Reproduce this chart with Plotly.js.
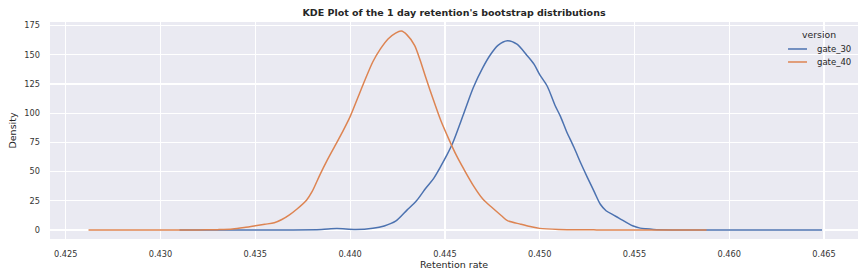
<!DOCTYPE html>
<html>
<head>
<meta charset="utf-8">
<script src="https://cdn.plot.ly/plotly-3.0.1.min.js"></script>
<style>html,body{margin:0;padding:0;background:#fff;}#chart{width:865px;height:280px;}</style>
</head>
<body>
<div id="chart"></div>
<script>
// gate_30 bootstrap KDE
const gate30X = [0.4310, 0.4340, 0.4370, 0.4385, 0.4393, 0.4403, 0.4412, 0.4418, 0.4424, 0.4430, 0.4435, 0.4440, 0.4444, 0.4448, 0.4451, 0.4454, 0.4460, 0.4465, 0.4470, 0.4474, 0.4478, 0.4483, 0.4488, 0.4493, 0.4497, 0.4500, 0.4504, 0.4508, 0.4511, 0.4514, 0.4518, 0.4522, 0.4525, 0.4529, 0.4532, 0.4535, 0.4539, 0.4542, 0.4549, 0.4553, 0.4556, 0.4560, 0.4570, 0.4600, 0.4649];
const gate30Y = [0, 0, 0.1, 0.5, 1.2, 0.4, 1.5, 3.5, 7.5, 17, 25, 36, 44, 55, 64, 74, 100, 122, 139, 150, 158, 162, 159, 150, 142, 133, 123, 107, 97, 85, 71, 56, 45.5, 32, 22, 16.5, 12.8, 10, 3.6, 1.6, 1.0, 0.5, 0.1, 0, 0];
// gate_40 bootstrap KDE
const gate40X = [0.4262, 0.4300, 0.4320, 0.4330, 0.4338, 0.4345, 0.4350, 0.4355, 0.4360, 0.4364, 0.4368, 0.4372, 0.4377, 0.4380, 0.4384, 0.4388, 0.4392, 0.4396, 0.4400, 0.4404, 0.4408, 0.4412, 0.4416, 0.4420, 0.4424, 0.4427, 0.4430, 0.4434, 0.4437, 0.4440, 0.4444, 0.4448, 0.4452, 0.4456, 0.4460, 0.4465, 0.4470, 0.4475, 0.4480, 0.4483, 0.4490, 0.4495, 0.4500, 0.4510, 0.4530, 0.4560, 0.4588];
const gate40Y = [0, 0, 0.1, 0.3, 0.8, 2.3, 3.6, 4.9, 6.2, 9, 13, 18, 25.5, 33, 47, 60, 72, 84, 97, 113, 129, 144, 155, 163.5, 168.5, 170.2, 167, 158, 145, 130, 111, 93, 78, 64, 52, 38, 26.5, 19, 12, 8, 5, 3, 1.4, 0.5, 0.1, 0, 0];
const seriesNames = ['gate_30', 'gate_40'];
const seriesColors = ['#4c72b0', '#dd8452'];
const legendTitle = 'version';
const xTickVals = [0.425, 0.430, 0.435, 0.440, 0.445, 0.450, 0.455, 0.460, 0.465];
const yTickVals = [0, 25, 50, 75, 100, 125, 150, 175];

const font = 'DejaVu Sans, Liberation Sans, sans-serif';
const traces = [
  {x: gate30X, y: gate30Y, name: seriesNames[0], type: 'scatter', mode: 'lines',
   line: {color: seriesColors[0], width: 1.5, shape: 'spline', smoothing: 0.8}},
  {x: gate40X, y: gate40Y, name: seriesNames[1], type: 'scatter', mode: 'lines',
   line: {color: seriesColors[1], width: 1.5, shape: 'spline', smoothing: 0.8}}
];

// seaborn-style compact legend drawn in paper coordinates
const legX0 = 0.9134, legX1 = 0.9369, legTextX = 0.9468, legRowY = [0.8756, 0.8157];
const shapes = seriesNames.map((n, i) => ({
  type: 'line', xref: 'paper', yref: 'paper', x0: legX0, x1: legX1, y0: legRowY[i], y1: legRowY[i],
  line: {color: seriesColors[i], width: 1.5}
}));
const annotations = [
  {text: legendTitle, xref: 'paper', yref: 'paper', x: 0.9517, y: 0.9447, xanchor: 'center', yanchor: 'middle',
   showarrow: false, font: {family: font, size: 9.3, color: '#262626'}}
].concat(seriesNames.map((n, i) => ({
  text: n, xref: 'paper', yref: 'paper', x: legTextX, y: legRowY[i], xanchor: 'left', yanchor: 'middle',
  showarrow: false, font: {family: font, size: 8.5, color: '#262626'}
})));

const layout = {
  width: 865, height: 280,
  margin: {l: 50, r: 7, t: 22, b: 41},
  paper_bgcolor: '#ffffff', plot_bgcolor: '#eaeaf2',
  font: {family: font, color: '#262626'},
  title: {text: "<b>KDE Plot of the 1 day retention's bootstrap distributions</b>",
          x: 0.5, xref: 'paper', xanchor: 'center', y: 0.9536, yref: 'container', yanchor: 'middle',
          font: {family: font, size: 9.5, color: '#262626'}},
  xaxis: {range: [0.42417, 0.46679], tickvals: xTickVals, tickformat: '.3f',
          showgrid: true, gridcolor: '#ffffff', gridwidth: 1.2, zeroline: false,
          showline: false, ticks: '', tickfont: {size: 8.2, color: '#333333'},
          ticklabelstandoff: 9,
          title: {text: 'Retention rate', font: {size: 9.5, color: '#262626'}, standoff: 2}},
  yaxis: {range: [-7.7, 178], tickvals: yTickVals,
          showgrid: true, gridcolor: '#ffffff', gridwidth: 1.2, zeroline: false,
          showline: false, ticks: '', tickfont: {size: 8.2, color: '#333333'},
          ticklabelstandoff: 9,
          title: {text: 'Density', font: {size: 9.5, color: '#262626'}, standoff: 6}},
  showlegend: false,
  shapes: shapes,
  annotations: annotations
};
Plotly.newPlot('chart', traces, layout, {displayModeBar: false, staticPlot: true});
</script>
</body>
</html>
